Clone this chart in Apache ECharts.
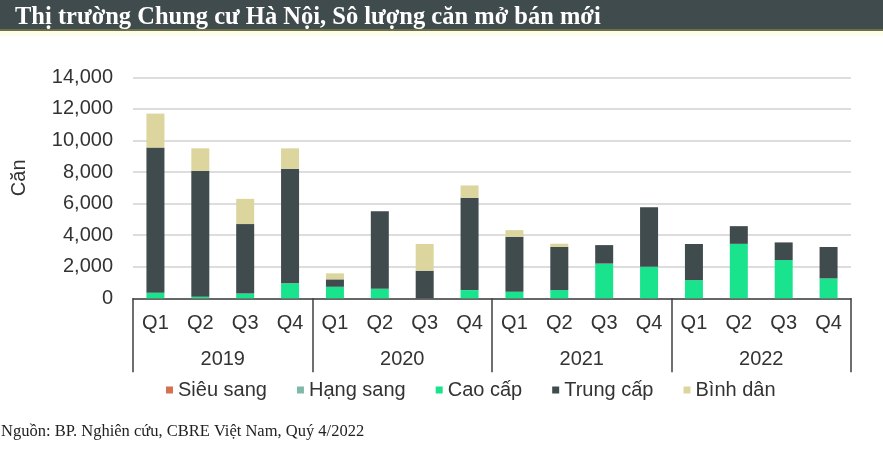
<!DOCTYPE html>
<html>
<head>
<meta charset="utf-8">
<script src="https://cdn.jsdelivr.net/npm/echarts@6/dist/echarts.min.js"></script>
<style>
html,body{margin:0;padding:0;background:#fff;}
#c{width:883px;height:461px;}
</style>
</head>
<body>
<div id="c"></div>
<script>
var quarters = ['Q1','Q2','Q3','Q4','Q1','Q2','Q3','Q4','Q1','Q2','Q3','Q4','Q1','Q2','Q3','Q4'];
var years = ['2019','2020','2021','2022'];
var yTicks = [0,2000,4000,6000,8000,10000,12000,14000];
var sieuSang = [0,0,0,0, 0,0,0,0, 0,0,0,0, 0,0,0,0];
var hangSang = [0,0,0,0, 0,0,0,0, 0,0,0,0, 0,0,0,0];
var caoCap   = [350,100,300,950, 730,600,0,520, 420,520,2200,2000, 1150,3450,2420,1260];
var trungCap = [9200,7980,4400,7250, 470,4920,1750,5850, 3480,2730,1170,3760, 2290,1120,1120,1990];
var binhDan  = [2150,1420,1600,1300, 380,0,1690,780, 420,210,0,0, 0,0,0,0];
var seriesNames = ['Siêu sang','Hạng sang','Cao cấp','Trung cấp','Bình dân'];
var seriesData = [sieuSang, hangSang, caoCap, trungCap, binhDan];
var colors = ['#d4714f','#7fb9a9','#19e38d','#3f4b4d','#dcd69e'];

var chart = echarts.init(document.getElementById('c'), null, {renderer:'canvas'});
var series = seriesNames.map(function(n,i){
  return {name:n, type:'bar', stack:'total', xAxisIndex:0, barWidth:18,
    data: seriesData[i], itemStyle:{color:colors[i]}, emphasis:{disabled:true}};
});
chart.setOption({
  animation:false,
  backgroundColor:'#ffffff',
  graphic:[
    {type:'rect', left:0, top:0, shape:{width:883, height:29}, style:{fill:'#3f4b4d'}, z:-1},
    {type:'rect', left:0, top:29, shape:{width:883, height:2}, style:{fill:'#6e6f45'}, z:-1},
    {type:'rect', left:0, top:31, shape:{width:883, height:5}, style:{fill:'#fdfdeb'}, z:-1},
    {type:'text', left:1, top:423, style:{text:'Nguồn: BP. Nghiên cứu, CBRE Việt Nam, Quý 4/2022', fill:'#222', font:'16.5px "Liberation Serif"'}}
  ],
  title:{text:'Thị trường Chung cư Hà Nội, Sô lượng căn mở bán mới', left:10, top:0,
    textStyle:{color:'#ffffff', fontFamily:'Liberation Serif', fontWeight:'bold', fontSize:24.5}},
  legend:{data:seriesNames, left:161, top:375, icon:'rect', itemWidth:7, itemHeight:7, itemGap:30,
    textStyle:{fontFamily:'Liberation Sans', fontSize:20, color:'#333'}},
  grid:{left:133, right:32, top:77.3, bottom:162.7},
  xAxis:[
    {type:'category', data:quarters, position:'bottom',
      axisLine:{show:true, lineStyle:{color:'#404040', width:1.5}},
      axisTick:{show:false},
      axisLabel:{interval:0, margin:15, fontFamily:'Liberation Sans', fontSize:20, color:'#333'}},
    {type:'category', data:years, position:'bottom', gridIndex:0,
      axisLine:{show:false},
      axisTick:{show:true, length:74, interval:0, lineStyle:{color:'#404040', width:1.5}},
      axisLabel:{interval:0, margin:51, fontFamily:'Liberation Sans', fontSize:20, color:'#333'}}
  ],
  yAxis:{type:'value', min:yTicks[0], max:yTicks[yTicks.length-1], interval:2000,
    name:'Căn', nameLocation:'middle', nameGap:104, nameRotate:90,
    nameTextStyle:{fontFamily:'Liberation Sans', fontSize:20, color:'#333', padding:[0,0,0,20]},
    axisLine:{show:false}, axisTick:{show:false},
    axisLabel:{margin:20, fontFamily:'Liberation Sans', fontSize:20, color:'#333',
      formatter:function(v){return v.toLocaleString('en-US');}},
    splitLine:{lineStyle:{color:'#d2d2d2', width:1.5}}},
  series: series
});
</script>
</body>
</html>
